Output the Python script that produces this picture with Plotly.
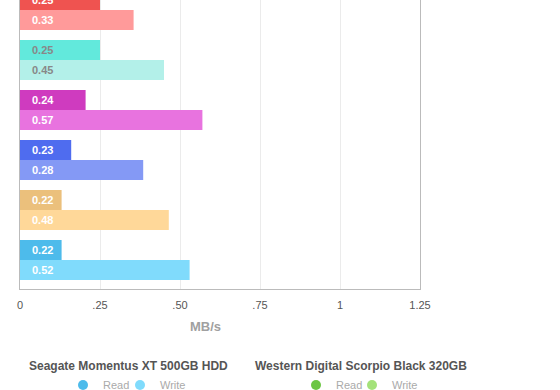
import plotly.graph_objects as go

# categories, bottom to top
devices = ["Seagate Momentus XT 500GB HDD", "Drive 5", "Drive 4", "Drive 3", "Drive 2", "Drive 1"]
read_vals = [0.13, 0.13, 0.16, 0.205, 0.25, 0.25]
write_vals = [0.53, 0.465, 0.385, 0.57, 0.45, 0.355]
read_labels = ["0.22", "0.22", "0.23", "0.24", "0.25", "0.25"]
write_labels = ["0.52", "0.48", "0.28", "0.57", "0.45", "0.33"]
read_colors = ["#4dbbeb", "#ebc07c", "#4f6cef", "#cf3bbf", "#62e9dc", "#ef5350"]
write_colors = ["#80dbfc", "#ffd899", "#8499f5", "#e873df", "#b3f0e9", "#ff9a9a"]
label_colors = ["#ffffff", "#ffffff", "#ffffff", "#ffffff", "#888888", "#ffffff"]
x_tickvals = [0, 0.25, 0.5, 0.75, 1, 1.25]
x_ticktext = ["0", ".25", ".50", ".75", "1", "1.25"]
legend_names = ["Seagate Momentus XT 500GB HDD", "Western Digital Scorpio Black 320GB"]
legend_read_colors = ["#4dbbeb", "#6cc644"]
legend_write_colors = ["#80dbfc", "#a4e27a"]

FONT = "Helvetica Neue, Helvetica, Arial, Liberation Sans, sans-serif"

fig = go.Figure()
fig.add_trace(go.Bar(y=devices, x=write_vals, orientation="h", name="Write",
                     marker=dict(color=write_colors, line=dict(width=0)),
                     showlegend=False, hoverinfo="x"))
fig.add_trace(go.Bar(y=devices, x=read_vals, orientation="h", name="Read",
                     marker=dict(color=read_colors, line=dict(width=0)),
                     showlegend=False, hoverinfo="x"))

annotations = []
for i, d in enumerate(devices):
    annotations.append(dict(x=0, y=d, xref="x", yref="y", text="<b>" + read_labels[i] + "</b>", showarrow=False,
                            xanchor="left", xshift=10, yshift=10,
                            font=dict(family=FONT, size=11, color=label_colors[i])))
    annotations.append(dict(x=0, y=d, xref="x", yref="y", text="<b>" + write_labels[i] + "</b>", showarrow=False,
                            xanchor="left", xshift=10, yshift=-10,
                            font=dict(family=FONT, size=11, color=label_colors[i])))
annotations.append(dict(x=(205 - 20) / 400, y=(289 - 326) / 289, xref="paper", yref="paper",
                        text="<b>MB/s</b>", showarrow=False, xanchor="center", yanchor="middle",
                        font=dict(family=FONT, size=13, color="#a0a0a0")))
# legend group titles
title_centers = [128, 361]
for k, name in enumerate(legend_names):
    annotations.append(dict(x=(title_centers[k] - 20) / 400, y=(289 - 366) / 289, xref="paper", yref="paper",
                            text="<b>" + name + "</b>", showarrow=False, xanchor="center", yanchor="middle",
                            font=dict(family=FONT, size=12, color="#555555")))

# one legend per entry so each can be placed under its group title
legend_keys = [["legend", "legend2"], ["legend3", "legend4"]]
legend_x = [[63, 120], [296, 352]]
for k, name in enumerate(legend_names):
    fig.add_trace(go.Scatter(x=[None], y=[None], mode="markers", name="Read",
                             marker=dict(symbol="circle", size=10, color=legend_read_colors[k]),
                             legend=legend_keys[k][0]))
    fig.add_trace(go.Scatter(x=[None], y=[None], mode="markers", name="Write",
                             marker=dict(symbol="circle", size=10, color=legend_write_colors[k]),
                             legend=legend_keys[k][1]))

legend_common = dict(orientation="h", xref="container", yref="container",
                     xanchor="left", yanchor="middle", bgcolor="rgba(0,0,0,0)",
                     font=dict(family=FONT, size=11, color="#aaaaaa"),
                     itemwidth=30, tracegroupgap=0)
legend_layout = {}
for k in range(2):
    for j in range(2):
        legend_layout[legend_keys[k][j]] = dict(**legend_common, x=legend_x[k][j] / 560, y=1 - 385 / 390)
fig.update_layout(**legend_layout)

fig.update_layout(
    width=560, height=390,
    margin=dict(l=20, r=140, t=0, b=101, pad=0),
    paper_bgcolor="white", plot_bgcolor="white",
    barmode="group", bargap=0.2, bargroupgap=0,
    annotations=annotations,
    font=dict(family=FONT, size=11, color="#555555"),
    xaxis=dict(range=[0, 1.25], tickvals=x_tickvals, ticktext=x_ticktext,
               showgrid=True, gridcolor="#ebebeb", gridwidth=1,
               showline=True, linecolor="#bbbbbb", linewidth=1, mirror=False,
               ticks="", zeroline=False, fixedrange=True, ticklabelstandoff=6,
               tickfont=dict(family=FONT, size=11, color="#555555")),
    yaxis=dict(range=[-0.58, 5.2], showticklabels=False, showgrid=False,
               showline=True, linecolor="#bbbbbb", linewidth=1, mirror=True,
               ticks="", zeroline=False, fixedrange=True),
)

fig.write_html("out.html", config={"displayModeBar": False},
               post_script="document.body.style.margin='0';document.body.style.overflow='hidden';")
